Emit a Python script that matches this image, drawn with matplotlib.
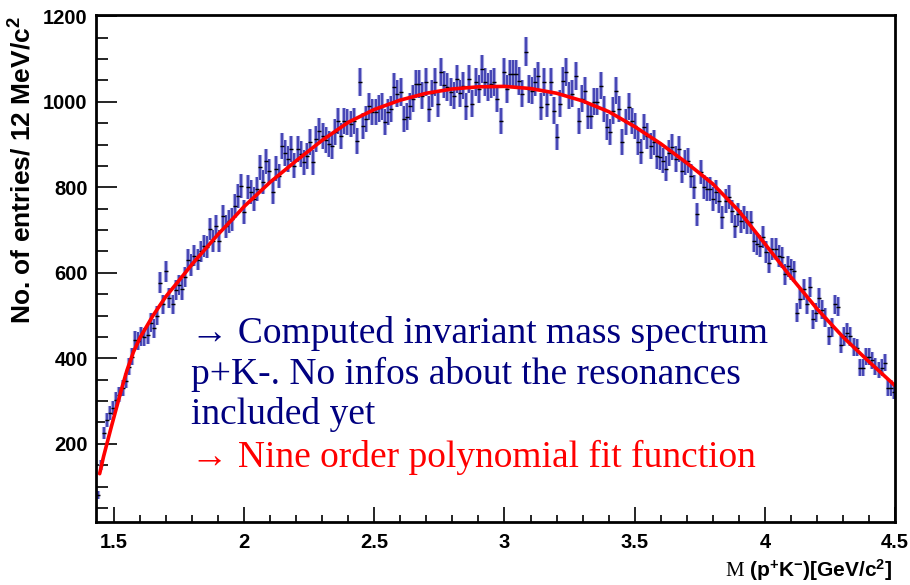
import numpy as np
import matplotlib
matplotlib.use('Agg')
from matplotlib import pyplot as plt
from matplotlib.ticker import FixedLocator, MultipleLocator

# histogram binning: 12 MeV per bin
BIN_START = 1.431
BIN_WIDTH = 0.012

# entries per bin
counts = [
    80, 150, 225, 256, 272, 284, 303, 315, 330, 348,
    380, 404, 443, 440, 451, 450, 455, 483, 470, 500,
    577, 526, 603, 540, 526, 560, 572, 561, 590, 631,
    618, 640, 631, 650, 662, 660, 702, 675, 709, 674,
    732, 709, 720, 725, 756, 779, 803, 742, 800, 789,
    772, 796, 847, 812, 861, 838, 789, 843, 826, 897,
    880, 866, 890, 850, 890, 878, 859, 873, 906, 859,
    913, 932, 920, 910, 901, 897, 930, 955, 920, 955,
    953, 948, 955, 909, 1047, 944, 960, 990, 976, 976,
    985, 990, 953, 976, 983, 1035, 1019, 1023, 960, 965,
    990, 1007, 1042, 1042, 1014, 1047, 983, 1020, 1047, 995,
    1070, 1040, 1035, 1023, 1014, 1054, 1020, 1038, 990, 1054,
    995, 1047, 1030, 1077, 1047, 1035, 1042, 1047, 1007, 955,
    1070, 1030, 1066, 1066, 1066, 1049, 1019, 1117, 1030, 1026,
    1047, 1061, 988, 1047, 995, 1047, 979, 918, 995, 1049,
    1070, 1014, 1019, 1061, 955, 1007, 1026, 967, 967, 1000,
    1000, 1038, 983, 941, 930, 979, 1026, 983, 906, 953,
    988, 955, 944, 906, 883, 941, 920, 897, 905, 873,
    871, 862, 843, 880, 894, 866, 890, 838, 859, 862,
    826, 800, 737, 836, 800, 796, 796, 772, 789, 768,
    730, 768, 777, 744, 709, 737, 721, 730, 718, 718,
    674, 668, 662, 683, 648, 624, 655, 655, 639, 636,
    596, 615, 608, 603, 507, 538, 561, 526, 566, 491,
    507, 542, 514, 495, 453, 472, 526, 521, 432, 451,
    460, 451, 427, 425, 378, 378, 404, 404, 395, 380,
    373, 378, 390, 331, 331, 322,
]

# ninth order polynomial fit
fit_x = [1.445, 1.46, 1.475, 1.49, 1.51, 1.53, 1.55, 1.575, 1.60, 1.65,
         1.70, 1.75, 1.80, 1.85, 1.90, 1.95, 2.00, 2.10, 2.20, 2.30,
         2.40, 2.50, 2.60, 2.70, 2.80, 2.90, 3.00, 3.10, 3.20, 3.30,
         3.40, 3.50, 3.60, 3.70, 3.80, 3.90, 4.00, 4.10, 4.20, 4.30,
         4.40, 4.50]
fit_y = [130, 170, 205, 240, 285, 330, 372, 415, 448, 500,
         545, 582, 620, 655, 690, 722, 755, 812, 862, 910,
         952, 982, 1004, 1020, 1030, 1035, 1036, 1031, 1020, 1002,
         977, 942, 902, 857, 808, 745, 668, 590, 516, 450,
         392, 336]

x_ticks = [1.5, 2.0, 2.5, 3.0, 3.5, 4.0, 4.5]
x_tick_labels = ['1.5', '2', '2.5', '3', '3.5', '4', '4.5']
y_ticks = [200, 400, 600, 800, 1000, 1200]

plt.rcParams['mathtext.fontset'] = 'custom'
plt.rcParams['mathtext.rm'] = 'Liberation Serif'
plt.rcParams['mathtext.bf'] = 'Liberation Sans:bold'
plt.rcParams['mathtext.default'] = 'bf'

W, H = 910, 585
fig = plt.figure(figsize=(W / 100, H / 100), dpi=100)
ax = fig.add_axes([96 / W, 1 - 522 / H, (895 - 96) / W, (522 - 15) / H])

y = np.array(counts, dtype=float)
x = BIN_START + BIN_WIDTH * (np.arange(len(y)) + 0.5)
err = np.sqrt(y)

# blurred blue error bars with a black centre mark
ax.errorbar(x, y, yerr=err, fmt='none', ecolor='#a0a0dc', elinewidth=3.0)
ax.errorbar(x, y, yerr=err, fmt='none', ecolor='#2c2caa', elinewidth=1.1)
ax.plot(x, y, ls='none', marker='_', ms=3.5, mew=1.0, color='black')
ax.plot(fit_x, fit_y, color='#ff0000', lw=2.6, solid_capstyle='round')

ax.set_xlim(1.431, 4.5)
ax.set_ylim(17, 1203)

for s in ax.spines.values():
    s.set_linewidth(2.0)
ax.xaxis.set_major_locator(FixedLocator(x_ticks))
ax.set_xticklabels(x_tick_labels)
ax.xaxis.set_minor_locator(MultipleLocator(0.1))
ax.yaxis.set_major_locator(FixedLocator(y_ticks))
ax.yaxis.set_minor_locator(MultipleLocator(50))
ax.tick_params(axis='both', which='both', direction='in', width=1.2,
               top=False, right=False)
ax.tick_params(axis='y', which='major', length=15, pad=6)
ax.tick_params(axis='y', which='minor', length=8.5)
ax.tick_params(axis='x', which='major', length=10.5, pad=8)
ax.tick_params(axis='x', which='minor', length=5)
for lab in ax.get_xticklabels() + ax.get_yticklabels():
    lab.set_fontfamily('Liberation Sans')
    lab.set_fontweight('bold')
    lab.set_fontsize(14.5)

fig.text(23 / W, 1 - 16 / H, 'No. of entries/ 12 MeV/c$^{2}$',
         rotation=90, ha='center', va='top', family='Liberation Sans',
         fontweight='bold', fontsize=19)
fig.text(893 / W, 1 - 577 / H,
         r'$\mathrm{M}$ (p$^{+}$K$^{-}$)[GeV/c$^{2}$]',
         ha='right', va='baseline', family='Liberation Sans',
         fontweight='bold', fontsize=15)

# notes on the chart
serif = ['Liberation Serif', 'DejaVu Serif']
notes = [
    ('\u2192 Computed invariant mass spectrum', '#000080', 343),
    ('p+K-. No infos about the resonances', '#000080', 384),
    ('included yet', '#000080', 424),
    ('\u2192 Nine order polynomial fit function', '#ff0000', 467),
]
for text, color, base in notes:
    fig.text(191 / W, 1 - base / H, text, color=color, family=serif,
             fontsize=27, ha='left', va='baseline')

fig.savefig('out.png', dpi=100)
